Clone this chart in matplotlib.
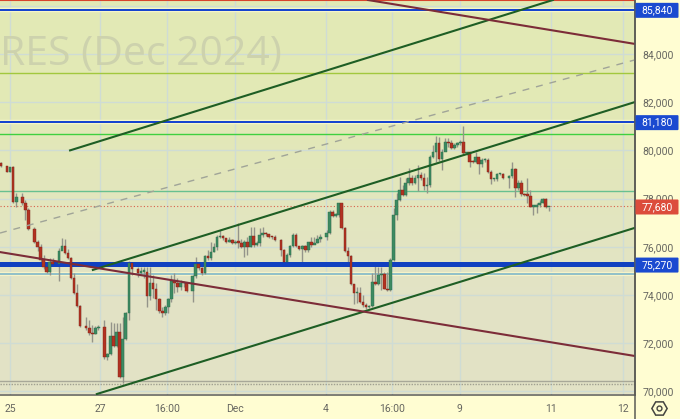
import numpy as np
import matplotlib
matplotlib.use('Agg')
import matplotlib.pyplot as plt
from matplotlib.patches import FancyBboxPatch

plt.rcParams['font.family'] = ['Roboto', 'DejaVu Sans']

# цены в тысячах, бары по порядку
first_open = 79.49
closes = [79.35, 79.12, 79.30, 77.87, 78.08, 77.83, 77.53, 76.73, 76.21, 76.01, 75.45, 75.15, 74.94, 75.38, 75.27,
          75.83, 76.03, 75.76, 75.52, 74.69, 74.07, 73.56, 72.71, 72.62, 72.44, 72.38, 72.62, 72.69, 71.44, 71.55,
          72.31, 71.88, 72.47, 70.61, 72.16, 73.24, 75.34, 75.07, 74.93, 74.97, 74.97, 73.96, 74.51, 74.25, 73.83,
          73.35, 73.27, 73.52, 73.82, 74.59, 74.51, 74.32, 74.49, 74.49, 74.18, 74.79, 75.27, 75.11, 74.90, 75.62,
          75.52, 75.80, 75.98, 76.39, 76.45, 76.35, 76.21,
          76.28, 76.14, 76.21, 76.17, 76.00, 76.21, 75.98, 76.45, 76.07, 76.17, 76.49, 76.56, 76.52, 76.42, 76.39,
          76.28, 75.87, 75.38, 75.66, 76.03, 76.49, 76.03, 75.91, 76.03, 75.87, 76.21, 76.07, 76.17, 76.31, 76.42,
          76.59, 77.46, 77.29, 77.32, 77.80, 76.77, 75.84, 75.63, 74.46, 74.07, 74.07, 73.72, 73.58, 73.49, 73.56,
          74.55, 74.46, 74.83, 74.87, 74.25, 74.21, 75.45, 77.32,
          77.94, 78.36, 78.15, 78.63, 78.84, 78.63, 78.84, 78.98, 78.84, 78.52, 78.56, 79.74, 79.95, 80.29, 79.63,
          79.95, 80.36, 80.29, 80.09, 80.22, 80.29, 80.36, 79.88, 79.92, 79.53, 79.50, 79.71, 79.44, 79.60, 79.60,
          79.12, 78.80, 78.80, 79.02, 79.02, 78.84, 78.94, 79.22, 78.45, 78.63, 78.18, 78.15, 78.12, 77.67, 77.67,
          77.73, 77.83, 77.97, 77.64, 77.64]
highs = [79.53, 79.35, 79.32, 79.35, 78.22, 78.22, 77.94, 77.60, 76.84, 76.28, 76.12, 75.66, 75.31, 75.52, 75.52,
         75.94, 76.35, 76.31, 75.90, 75.59, 74.90, 74.44, 73.58, 73.10, 72.96, 72.76, 72.70, 72.75, 72.96, 71.60,
         72.89, 72.82, 72.82, 72.82, 73.10, 73.31, 75.42, 75.38, 75.18, 75.18, 75.18, 75.18, 75.18, 74.83, 74.48,
         73.86, 73.52, 73.58, 73.86, 74.83, 74.90, 74.69, 74.62, 74.55, 74.55, 74.83, 75.59, 75.31, 75.18, 75.66,
         75.87, 76.21, 76.14, 76.49, 76.70, 76.49, 76.35,
         76.42, 76.31, 76.28, 77.00, 76.31, 76.28, 76.42, 76.81, 76.81, 76.25, 76.77, 76.81, 76.63, 76.52, 76.45,
         76.49, 76.31, 75.89, 75.73, 76.07, 76.56, 76.56, 76.05, 76.07, 76.07, 76.21, 76.42, 76.42, 76.49, 76.53,
         76.70, 77.53, 77.53, 77.40, 77.83, 77.83, 76.81, 76.00, 75.66, 74.46, 74.35, 74.35, 74.00, 73.65, 73.60,
         74.90, 75.24, 75.17, 75.17, 74.97, 74.97, 75.52, 77.60,
         78.22, 78.91, 78.56, 78.84, 79.26, 78.98, 78.98, 79.40, 79.12, 79.05, 78.91, 79.81, 80.22, 80.60, 80.57,
         80.04, 80.50, 80.50, 80.43, 80.29, 80.36, 80.43, 81.01, 79.95, 79.95, 79.60, 79.95, 79.67, 79.67, 79.67,
         79.67, 79.19, 78.84, 79.05, 79.08, 79.08, 78.98, 79.53, 79.26, 78.77, 78.77, 78.22, 78.84, 78.36, 77.73,
         77.80, 77.94, 78.01, 78.01, 77.67]
lows = [79.32, 79.10, 79.10, 77.83, 77.64, 77.73, 77.11, 76.70, 76.14, 75.84, 75.38, 75.07, 74.90, 74.83, 75.20,
        74.58, 75.94, 75.70, 75.48, 74.66, 74.04, 73.52, 72.69, 72.55, 72.34, 72.06, 72.36, 72.55, 71.33, 71.30,
        71.51, 71.86, 71.86, 70.54, 70.34, 72.13, 72.96, 74.83, 74.76, 74.85, 74.69, 73.52, 73.79, 73.86, 73.38,
        73.24, 73.10, 73.17, 73.24, 73.72, 74.07, 74.14, 74.21, 74.35, 74.14, 73.72, 74.69, 75.04, 74.83, 74.87,
        75.45, 75.45, 75.80, 75.87, 76.35, 76.28, 76.15,
        76.21, 76.10, 76.12, 75.94, 75.94, 75.59, 75.66, 75.98, 76.00, 76.05, 76.03, 76.42, 76.45, 76.38, 76.33,
        76.25, 75.62, 75.36, 75.36, 75.59, 76.00, 76.00, 75.87, 75.31, 75.80, 75.80, 76.00, 76.10, 76.15, 76.21,
        76.28, 76.53, 77.25, 77.25, 77.25, 76.72, 75.80, 75.31, 74.41, 73.61, 73.65, 73.68, 73.52, 73.42, 73.45,
        73.52, 74.41, 74.41, 74.21, 74.24, 74.17, 74.17, 75.42,
        77.11, 77.91, 78.11, 78.11, 78.56, 78.56, 78.61, 78.32, 78.77, 78.36, 78.25, 78.50, 79.67, 79.53, 79.57,
        79.19, 80.09, 80.13, 80.04, 80.04, 80.15, 80.22, 79.81, 79.81, 79.30, 79.46, 79.46, 79.02, 79.33, 79.53,
        79.05, 78.61, 78.74, 78.74, 78.98, 78.80, 78.43, 78.84, 78.08, 78.36, 78.11, 78.11, 77.80, 77.64, 77.32,
        77.39, 77.67, 77.80, 77.60, 77.50]
# пропущенные бары (нет торгов)
missing_slots = [1, 6, 10, 18, 27, 33, 44, 62, 91, 106, 166]
n_slots = 181

time_ticks = [3, 32.5, 54.5, 76.9, 106.8, 128.5, 150.8, 180.7, 204.4]
time_labels = ['25', '27', '16:00', 'Dec', '4', '16:00', '9', '11', '12']
price_ticks = [70, 72, 74, 76, 78, 80, 82, 84, 86]

blue_levels = [85.84, 81.18]
main_level = 75.27
last_price = 77.68

# наклонные линии: (бар1, цена1, бар2, цена2)
green_lines = [(22.7, 80.0, 181.4, 86.24), (30.2, 75.04, 208.2, 82.0), (31.5, 69.89, 208.2, 76.78)]
brown_lines = [(120.6, 86.24, 208.2, 84.42), (-0.33, 75.78, 208.2, 71.47)]
dashed_line = (-0.33, 76.57, 208.2, 83.75)

W, H = 680, 419
fig = plt.figure(figsize=(W / 100, H / 100), dpi=100, facecolor='#fffdd2')
ax = fig.add_axes([0, (H - 394.5) / H, 634.5 / W, 394.5 / H])

# фон
grad = np.array([[[0.89, 0.915, 0.71]], [[0.89, 0.89, 0.775]]])
ax.imshow(grad, extent=[-0.33, 208.2, 69.87, 86.24], aspect='auto', interpolation='bilinear', zorder=0)
ax.set_xlim(-0.33, 208.2)
ax.set_ylim(69.87, 86.24)

for x in time_ticks:
    ax.axvline(x, color='#cfdcd4', lw=1, zorder=1)
for y in price_ticks:
    ax.axhline(y, color='#cfdcd4', lw=1, zorder=1)

# горизонтальные уровни
ax.axhline(86.22, color='#d8432c', lw=1.5, zorder=2)
ax.axhline(83.2, color='#a2c83e', lw=1.0, zorder=2)
ax.axhline(80.7, color='#3fd03f', lw=1.0, zorder=2)
ax.axhline(78.3, color='#68c090', lw=1.0, zorder=2)
ax.axhline(74.85, color='#f6f3c8', lw=3, zorder=2)
ax.axhline(74.85, color='#80b8c8', lw=1.2, zorder=2)
ax.axhline(70.42, color='#a8a898', lw=1, zorder=2)
ax.axhline(70.32, color='#a0a090', lw=1, ls=(0, (1, 1)), zorder=2)
ax.axhline(last_price, color='#d8604a', lw=0.8, ls=(0, (1, 2)), zorder=2)
for y in blue_levels:
    ax.axhline(y, color='#f6f6c8', lw=3.2, zorder=2)
    ax.axhline(y, color='#1040d0', lw=1.4, zorder=3)
ax.axhline(main_level, color='#1040c0', lw=3.6, zorder=3)

# свечи
slots = np.delete(np.arange(n_slots), missing_slots)
closes = np.array(closes)
opens = np.r_[first_open, closes[:-1]]
ax.vlines(slots, lows, highs, color='#94948a', lw=1, zorder=2.5)
up = closes >= opens
bottoms = np.minimum(opens, closes)
heights = np.maximum(np.abs(closes - opens), 0.05)
ax.bar(slots[up], heights[up], 0.85, bottoms[up], color='#3c8a62', edgecolor='#2a6b48', lw=0.3, zorder=4)
ax.bar(slots[~up], heights[~up], 0.85, bottoms[~up], color='#b23222', edgecolor='#7c2418', lw=0.3, zorder=4)

# наклонные
for x1, y1, x2, y2 in green_lines:
    ax.plot([x1, x2], [y1, y2], color='#1e5e24', lw=1.5, zorder=5)
for x1, y1, x2, y2 in brown_lines:
    ax.plot([x1, x2], [y1, y2], color='#7c2c38', lw=1.5, zorder=5)
ax.plot([dashed_line[0], dashed_line[2]], [dashed_line[1], dashed_line[3]], color='#a0a498', lw=1,
        ls=(0, (5, 5)), zorder=5)

ax.text(0, 0.86, 'RES (Dec 2024)', transform=ax.transAxes, fontsize=29.5, color='#cdd2ad',
        family='Open Sans', va='center', ha='left', zorder=1.5, clip_on=True)

ax.yaxis.tick_right()
ax.set_yticks(price_ticks)
ax.set_yticklabels([f'{int(p * 1000):,}' for p in price_ticks])
ax.set_xticks(time_ticks)
ax.set_xticklabels(time_labels)
ax.tick_params(axis='both', length=0, labelsize=7.5, labelcolor='#666660')
ax.tick_params(axis='y', pad=6)
ax.tick_params(axis='x', pad=7)
for s in ['left', 'top']:
    ax.spines[s].set_visible(False)
for s in ['right', 'bottom']:
    ax.spines[s].set_color('#5a5a55')
    ax.spines[s].set_linewidth(1.1)

# ярлыки цен справа
tags = [(85.84, '85,840', '#1a4ad0'), (81.18, '81,180', '#1a4ad0'), (75.27, '75,270', '#1a4ad0'),
        (77.68, '77,680', '#dc4c3c')]
for price, label, col in tags:
    ypx = (price - 69.87) / (86.24 - 69.87) * 394.5 + (H - 394.5) - 0.7
    box = FancyBboxPatch((636.5, ypx - 6.5), 41, 13, boxstyle='round,pad=1', transform=None,
                         facecolor=col, edgecolor='none', zorder=6)
    fig.add_artist(box)
    fig.text(657 / W, ypx / H, label, color='white', fontsize=7.5, ha='center', va='center', zorder=7)

# разделитель и значок настроек
fig.add_artist(plt.Line2D([634.5 / W, 634.5 / W], [0, 1], color='#5a5a55', lw=1.1))
fig.add_artist(plt.Line2D([659 / W], [11 / H], marker='H', ms=11, mfc='none', mec='#444440', mew=1.1))
fig.add_artist(plt.Line2D([659 / W], [11 / H], marker='o', ms=3.5, mfc='none', mec='#444440', mew=1))

fig.savefig('out.png', dpi=100, facecolor=fig.get_facecolor())
